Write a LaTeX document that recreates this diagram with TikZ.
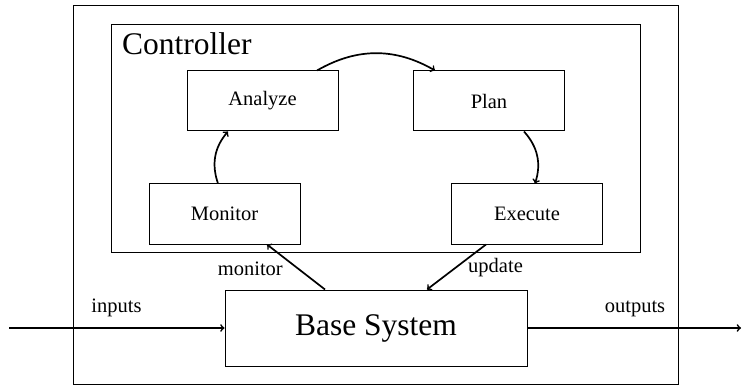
\documentclass[tikz,border=0pt]{standalone}
\usepackage{fontspec}
\setmainfont{Liberation Serif}
\begin{document}
\begin{tikzpicture}[x=1pt,y=1pt,
  box/.style={draw,line width=1pt,inner sep=0pt,minimum width=151pt,minimum height=60pt,font=\fontsize{20.5}{24}\selectfont},
  frame/.style={draw,line width=1pt},
  flow/.style={->,line width=1.7pt},
  lbl/.style={inner sep=0pt,font=\fontsize{20.5}{24}\selectfont}]
\useasboundingbox (0,0) rectangle (743,391);
% enclosing frames
\draw[frame] (73,7) rectangle (678,385);
\draw[frame] (111,139) rectangle (640,366);
\node[inner sep=0pt,anchor=base west,font=\fontsize{31.5}{36}\selectfont] (ctl) at (122,336) {Controller};
% MAPE loop
\node[box] (analyze) at (262.5,290) {Analyze};
\node[box] (plan) at (489,290) {Plan};
\node[box] (execute) at (527,177) {Execute};
\node[box] (monitor) at (224.5,177) {Monitor};
\node[box,minimum width=302pt,minimum height=76pt,font=\fontsize{31.5}{36}\selectfont] (base) at (376,63) {Base System};
\draw[flow] ([xshift=54.5pt]analyze.north) to[bend left=30] ([xshift=-54pt]plan.north);
\draw[flow] ([xshift=-6.5pt]monitor.north) to[bend left=30] ([xshift=-34.5pt]analyze.south);
\draw[flow] ([xshift=35pt]plan.south) to[bend left=30] ([xshift=8pt]execute.north);
% links to the base system
\draw[flow] ([xshift=-51pt]base.north) -- ([xshift=42.5pt]monitor.south);
\draw[flow] ([xshift=-41pt]execute.south) -- ([xshift=51pt]base.north);
\node[lbl,anchor=base east] (lmon) at (283,116) {monitor};
\node[lbl,anchor=base west] (lupd) at (468,119) {update};
% inputs and outputs
\coordinate (in) at (9,63);
\coordinate (out) at (741,63);
\draw[flow] (in) -- (base.west);
\draw[flow] (base.east) -- (out);
\node[lbl,anchor=base] (lin) at (116.5,79) {inputs};
\node[lbl,anchor=base] (lout) at (635,79) {outputs};
\end{tikzpicture}
\end{document}
